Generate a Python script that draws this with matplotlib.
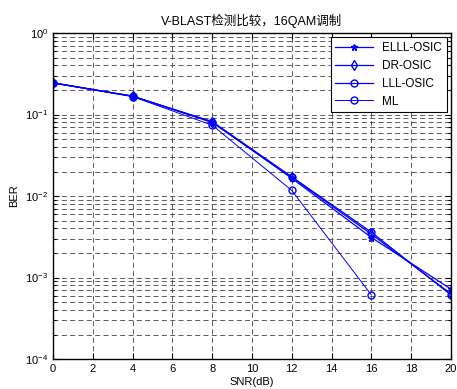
import matplotlib
matplotlib.use("Agg")
import matplotlib.pyplot as plt
from matplotlib.ticker import LogLocator, NullFormatter, MultipleLocator

plt.rcParams['font.family'] = ['Liberation Sans', 'Noto Sans CJK SC', 'DejaVu Sans']

snr = [0, 4, 8, 12, 16, 20]
snr_ml = [0, 4, 8, 12, 16]
ber_elll = [0.245, 0.168, 0.081, 0.0165, 0.0031, 0.00072]
ber_dr = [0.245, 0.168, 0.080, 0.0170, 0.0034, 0.00063]
ber_lll = [0.245, 0.168, 0.082, 0.0172, 0.0036, 0.00061]
ber_ml = [0.243, 0.166, 0.074, 0.0117, 0.00061]
labels = ['ELLL-OSIC', 'DR-OSIC', 'LLL-OSIC', 'ML']
title = 'V-BLAST检测比较，16QAM调制'

fig = plt.figure(figsize=(4.57, 3.89), dpi=100)
ax = fig.add_axes([0.116, 0.077, 0.871, 0.838])

blue = (0, 0, 1)
ax.semilogy(snr, ber_elll, color=blue, marker='*', ms=5, lw=0.9, label=labels[0])
ax.semilogy(snr, ber_dr, color=blue, marker='d', ms=5, mfc='none', lw=0.9, label=labels[1])
ax.semilogy(snr, ber_lll, color=blue, marker='o', ms=5, mfc='none', lw=0.9, label=labels[2])
ax.semilogy(snr_ml, ber_ml, color=blue, marker='o', ms=5, mfc='none', lw=0.7, label=labels[3])

ax.set_xlim(0, 20)
ax.set_ylim(1e-4, 1)
ax.xaxis.set_major_locator(MultipleLocator(2))
ax.yaxis.set_major_locator(LogLocator(base=10, numticks=10))
ax.yaxis.set_minor_locator(LogLocator(base=10, subs=range(2, 10), numticks=20))
ax.yaxis.set_minor_formatter(NullFormatter())

gls = (0, (6, 4))
ax.grid(True, which='major', color='0.25', linestyle=gls, lw=0.6)
ax.grid(True, which='minor', axis='y', color='0.25', linestyle=gls, lw=0.6)
ax.set_axisbelow(True)

ax.tick_params(which='both', direction='in', top=True, right=True, labelsize=8, width=0.8)
ax.tick_params(which='major', length=4)
ax.tick_params(which='minor', length=2)
for s in ax.spines.values():
    s.set_linewidth(1.0)

ax.set_xlabel('SNR(dB)', fontsize=8, labelpad=2)
ax.set_ylabel('BER', fontsize=8, labelpad=4)
ax.set_title(title, fontsize=9, pad=6)

leg = ax.legend(loc='upper right', fontsize=8.5, fancybox=False, framealpha=1,
                edgecolor='black', borderaxespad=0.35, handlelength=3.2,
                labelspacing=0.5, borderpad=0.4)
leg.get_frame().set_linewidth(0.8)

fig.savefig('out.png', dpi=100)
